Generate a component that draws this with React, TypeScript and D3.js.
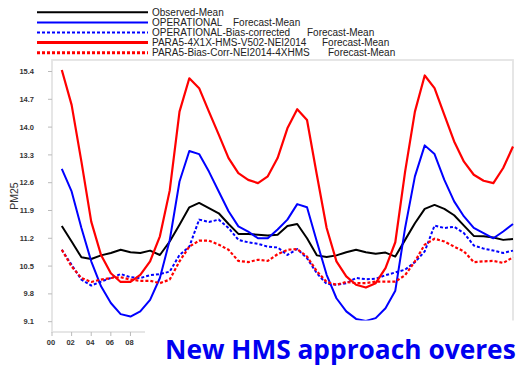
import React from "react";
import * as d3 from "d3";

const hours = d3.range(1, 48);

const observed = [11.51, 11.12, 10.72, 10.68, 10.77, 10.83, 10.91, 10.85, 10.83, 10.89, 10.78, 11.12,
  11.54, 11.98, 12.09, 11.96, 11.83, 11.56, 11.31, 11.31, 11.29, 11.27, 11.29, 11.51,
  11.56, 11.2, 10.77, 10.73, 10.77, 10.85, 10.91, 10.85, 10.81, 10.84, 10.74, 11.16,
  11.58, 11.94, 12.04, 11.94, 11.78, 11.52, 11.26, 11.25, 11.22, 11.16, 11.18];

const operational = [12.95, 12.38, 11.46, 10.62, 9.99, 9.57, 9.29, 9.23, 9.36, 9.65, 10.2, 11.15,
  12.63, 13.4, 13.32, 12.88, 12.38, 11.88, 11.5, 11.37, 11.2, 11.2, 11.42, 11.67,
  12.06, 11.98, 11.12, 10.28, 9.69, 9.36, 9.17, 9.12, 9.19, 9.44, 9.88, 11.46,
  12.76, 13.54, 13.32, 12.67, 12.13, 11.75, 11.46, 11.33, 11.2, 11.37, 11.56];

const operationalBC = [10.91, 10.53, 10.16, 10.01, 10.11, 10.2, 10.3, 10.22, 10.2, 10.27, 10.3, 10.36,
  10.78, 10.99, 11.67, 11.61, 11.67, 11.46, 11.16, 11.1, 11.06, 10.99, 10.97, 10.78,
  10.93, 10.7, 10.32, 10.05, 10.03, 10.07, 10.2, 10.17, 10.18, 10.27, 10.34, 10.41,
  10.6, 10.87, 11.52, 11.46, 11.49, 11.33, 11.02, 10.94, 10.89, 10.83, 10.89];

const para5 = [15.44, 14.56, 13.13, 11.62, 10.78, 10.32, 10.1, 10.1, 10.28, 10.62, 11.25, 12.4,
  14.39, 15.23, 14.98, 14.39, 13.81, 13.22, 12.84, 12.67, 12.59, 12.76, 13.22, 13.97,
  14.45, 14.18, 12.8, 11.46, 10.62, 10.24, 10.03, 9.96, 10.07, 10.45, 11.1, 12.88,
  14.39, 15.3, 14.98, 14.31, 13.64, 13.13, 12.8, 12.65, 12.59, 12.97, 13.51];

const para5BC = [10.91, 10.49, 10.2, 10.1, 10.16, 10.2, 10.22, 10.16, 10.13, 10.13, 10.07, 10.16,
  10.62, 10.99, 11.14, 11.14, 11.04, 10.91, 10.63, 10.6, 10.66, 10.63, 10.8, 10.91,
  10.93, 10.74, 10.37, 10.1, 10.03, 10.1, 10.07, 10.07, 10.11, 10.11, 10.11, 10.27,
  10.62, 11.04, 11.19, 11.12, 10.99, 10.87, 10.6, 10.62, 10.63, 10.58, 10.72];

const yTicks = [9.1, 9.8, 10.5, 11.2, 11.9, 12.6, 13.3, 14.0, 14.7, 15.4];
const xTicks = [0, 2, 4, 6, 8];
const xTickLabels = ["00", "02", "04", "06", "08"];

const legendNames = ["Observed-Mean", "OPERATIONAL", "OPERATIONAL-Bias-corrected", "PARA5-4X1X-HMS-V502-NEI2014", "PARA5-Bias-Corr-NEI2014-4XHMS"];
const legendSuffix = ["", "Forecast-Mean", "Forecast-Mean", "Forecast-Mean", "Forecast-Mean"];
const seriesList = [observed, operational, operationalBC, para5, para5BC];
const colors = ["#000000", "#0000ff", "#0000ff", "#ff0000", "#ff0000"];
const dashes = ["", "", "3,2", "", "3,2"];

const title = "New HMS approach overes";

export default function App() {
  const W = 519, H = 376;
  const x = d3.scaleLinear().domain([0, 47]).range([52, 513]);
  const y = d3.scaleLinear().domain([8.84, 15.69]).range([332, 60]);
  const line = d3.line<number>().x((_, i) => x(hours[i])).y(d => y(d));
  const suffixX = [0, 233, 307, 322, 328];
  const lw = [2, 2, 2, 2.2, 2.2];
  const legW = [2, 2, 2, 3, 3];
  const font = "'Liberation Sans', Arial, sans-serif";

  return (
    <svg width={W} height={H} style={{ position: "absolute", left: 0, top: 0, background: "#fff", overflow: "hidden" }}>
      <rect x={0} y={0} width={W} height={H} fill="#fff" />
      {legendNames.map((n, i) => {
        const ly = 12.3 + i * 10.1;
        return (
          <g key={n}>
            <line x1={37} x2={148} y1={ly} y2={ly} stroke={colors[i]} strokeWidth={legW[i]} strokeDasharray={dashes[i]} />
            <text x={152} y={ly + 3.5} fontSize={10} fontFamily={font} fill="#222">{n}</text>
            {legendSuffix[i] && (
              <text x={suffixX[i]} y={ly + 3.5} fontSize={10} fontFamily={font} fill="#222">{legendSuffix[i]}</text>
            )}
          </g>
        );
      })}
      <rect x={x(0)} y={y(15.69)} width={x(47) - x(0)} height={y(8.84) - y(15.69)} fill="none" stroke="#e4e4e4" strokeWidth={1.8} />
      {yTicks.map(t => (
        <g key={t}>
          <line x1={48} x2={52} y1={y(t)} y2={y(t)} stroke="#bbb" strokeWidth={1} />
          <text x={34} y={y(t) + 2.6} fontSize={7.5} fontWeight="bold" fontFamily={font} textAnchor="end" fill="#333">{t.toFixed(1)}</text>
        </g>
      ))}
      {xTicks.map((t, i) => (
        <g key={t}>
          <line x1={x(t)} x2={x(t)} y1={332} y2={336} stroke="#bbb" strokeWidth={1} />
          <text x={x(t) - 1} y={345} fontSize={7.5} fontWeight="bold" fontFamily={font} textAnchor="middle" fill="#333">{xTickLabels[i]}</text>
        </g>
      ))}
      <text transform={`translate(18,196) rotate(-90)`} fontSize={10.5} fontFamily={font} textAnchor="middle" fill="#333">PM25</text>
      {seriesList.map((s, i) => (
        <path key={i} d={line(s) || ""} fill="none" stroke={colors[i]} strokeWidth={lw[i]} strokeDasharray={dashes[i]} strokeLinejoin="round" />
      ))}
      <rect x={145} y={320.5} width={W - 145} height={H - 320.5} fill="#fff" />
      <text x={165} y={359} fontSize={26.3} fontWeight="bold" fontFamily="'Open Sans', sans-serif" fill="#0000f0">{title}</text>
    </svg>
  );
}
